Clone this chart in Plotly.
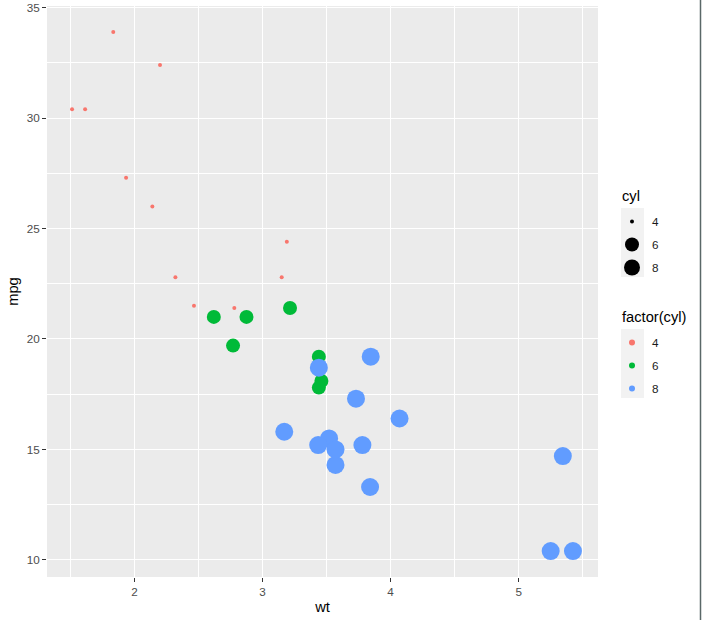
import plotly.graph_objects as go

# mtcars data
wt = [2.620, 2.875, 2.320, 3.215, 3.440, 3.460, 3.570, 3.190, 3.150, 3.440,
      3.440, 4.070, 3.730, 3.780, 5.250, 5.424, 5.345, 2.200, 1.615, 1.835,
      2.465, 3.520, 3.435, 3.840, 3.845, 1.935, 2.140, 1.513, 3.170, 2.770,
      3.570, 2.780]
mpg = [21.0, 21.0, 22.8, 21.4, 18.7, 18.1, 14.3, 24.4, 22.8, 19.2,
       17.8, 16.4, 17.3, 15.2, 10.4, 10.4, 14.7, 32.4, 30.4, 33.9,
       21.5, 15.5, 15.2, 13.3, 19.2, 27.3, 26.0, 30.4, 15.8, 19.7,
       15.0, 21.4]
cyl = [6, 6, 4, 6, 8, 6, 8, 4, 4, 6,
       6, 8, 8, 8, 8, 8, 8, 4, 4, 4,
       4, 8, 8, 8, 8, 4, 4, 4, 8, 6,
       8, 4]
levels = [4, 6, 8]
colors = {4: "#F8766D", 6: "#00BA38", 8: "#619CFF"}
sizes = {4: 4, 6: 14, 8: 18}
legend_titles = ["cyl", "factor(cyl)"]

FONT = "Liberation Sans, Arial, sans-serif"

fig = go.Figure()

for lv in levels:
    xs = [w for w, c in zip(wt, cyl) if c == lv]
    ys = [m for m, c in zip(mpg, cyl) if c == lv]
    fig.add_trace(go.Scatter(
        x=xs, y=ys, mode="markers", showlegend=False,
        marker=dict(color=colors[lv], size=sizes[lv], line=dict(width=0), opacity=1),
        hoverinfo="x+y"))

# size legend
for lv in levels:
    fig.add_trace(go.Scatter(
        x=[None], y=[None], mode="markers", name=str(lv), legend="legend",
        legendgroup="s%d" % lv,
        marker=dict(color="black", size=sizes[lv], line=dict(width=0))))
# colour legend
for lv in levels:
    fig.add_trace(go.Scatter(
        x=[None], y=[None], mode="markers", name=str(lv), legend="legend2",
        legendgroup="c%d" % lv,
        marker=dict(color=colors[lv], size=6, line=dict(width=0))))

L, R, T, B = 47, 104, 6, 43
W, H = 702, 620
pw = W - L - R
ph = H - T - B

def px(x):
    return (x - L) / pw

def py(y):
    return (H - B - y) / ph

shapes = [
    dict(type="rect", xref="paper", yref="paper", x0=px(621), x1=px(644),
         y0=py(208), y1=py(277), fillcolor="#F2F2F2", line=dict(width=0), layer="below"),
    dict(type="rect", xref="paper", yref="paper", x0=px(621), x1=px(644),
         y0=py(329), y1=py(398), fillcolor="#F2F2F2", line=dict(width=0), layer="below"),
    dict(type="line", xref="paper", yref="paper", x0=px(700.5), x1=px(700.5),
         y0=py(0), y1=py(620), line=dict(color="#5A6868", width=1.5)),
]

annotations = [
    dict(text=legend_titles[0], xref="paper", yref="paper", x=px(620), y=py(196),
         xanchor="left", yanchor="middle", showarrow=False,
         font=dict(family=FONT, size=14.7, color="black")),
    dict(text=legend_titles[1], xref="paper", yref="paper", x=px(620), y=py(317),
         xanchor="left", yanchor="middle", showarrow=False,
         font=dict(family=FONT, size=14.7, color="black")),
]

axis_common = dict(
    showgrid=True, gridcolor="white", gridwidth=1.1,
    zeroline=False, showline=False, automargin=False,
    ticks="outside", ticklen=4, tickwidth=1.1, tickcolor="#333333",
    tickfont=dict(family=FONT, size=11.7, color="#4D4D4D"),
)

fig.update_layout(
    width=W, height=H,
    margin=dict(l=L, r=R, t=T, b=B, autoexpand=False),
    paper_bgcolor="white", plot_bgcolor="#EBEBEB",
    font=dict(family=FONT),
    xaxis=dict(range=[1.3175, 5.6195], tickvals=[2, 3, 4, 5],
               minor=dict(tick0=1.5, dtick=1, showgrid=True, gridcolor="white", gridwidth=0.55, ticks=""),
               title=dict(text="wt", font=dict(family=FONT, size=14.7, color="black"), standoff=4),
               **axis_common),
    yaxis=dict(range=[9.225, 35.075], tickvals=[10, 15, 20, 25, 30, 35],
               minor=dict(tick0=12.5, dtick=5, showgrid=True, gridcolor="white", gridwidth=0.55, ticks=""),
               title=dict(text="mpg", font=dict(family=FONT, size=14.7, color="black"), standoff=4),
               **axis_common),
    legend=dict(x=px(612), y=py(207), xanchor="left", yanchor="top",
                font=dict(family=FONT, size=11.7, color="#1A1A1A"),
                bgcolor="rgba(0,0,0,0)", tracegroupgap=4, itemclick=False),
    legend2=dict(x=px(612), y=py(328), xanchor="left", yanchor="top",
                 font=dict(family=FONT, size=11.7, color="#1A1A1A"),
                 bgcolor="rgba(0,0,0,0)", tracegroupgap=4, itemclick=False),
    shapes=shapes,
    annotations=annotations,
)

fig.write_html("out.html", config={"displayModeBar": False},
               post_script="document.body.style.margin='0';document.body.style.padding='0';")
